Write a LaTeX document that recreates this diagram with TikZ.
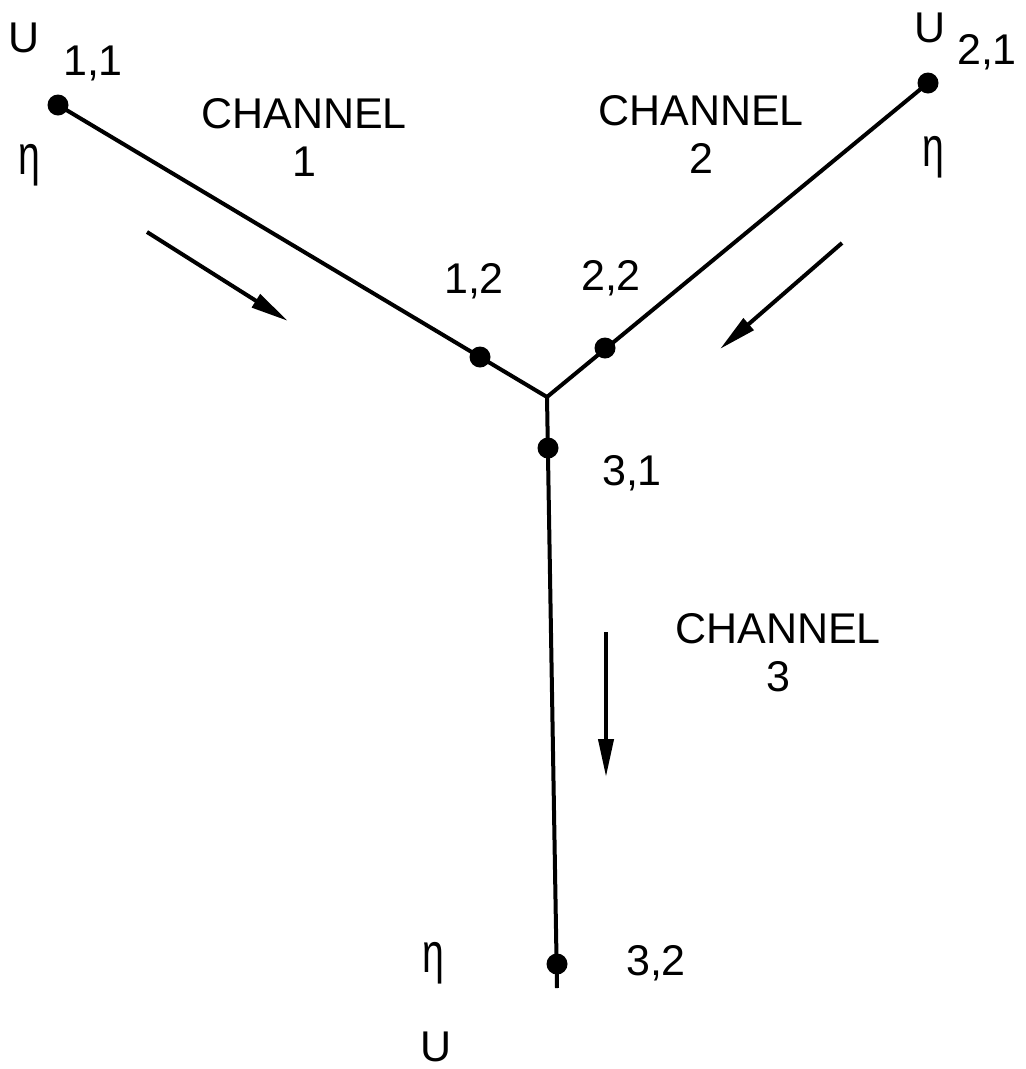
\documentclass[tikz,border=0pt]{standalone}
\usepackage{fontspec}
\usepackage{graphicx}
\setmainfont{Liberation Sans}
\usetikzlibrary{arrows.meta}

\begin{document}
\begin{tikzpicture}[x=1pt,y=-1pt,
    station/.style={circle,fill=black,inner sep=0pt,minimum size=21pt},
    lbl/.style={font=\fontsize{43}{48}\selectfont,inner sep=0pt,align=center},
    idx/.style={lbl,anchor=base},
    eta/.style={font=\fontsize{56}{60}\selectfont,inner sep=0pt,anchor=base},
    chan/.style={line width=4pt},
    flow/.style={-{Triangle[length=38pt,width=15pt]},line width=4pt}
  ]
    \useasboundingbox (0,0) rectangle (1026,1069);

    % channel ends and junction
    \coordinate (jn) at (547,397);
    \coordinate (tail) at (557,988);
    \node[station] (n11) at (58,105) {};
    \node[station] (n21) at (928,83) {};
    \node[station] (n12) at (480,357) {};
    \node[station] (n22) at (605,348) {};
    \node[station] (n31) at (548,448) {};
    \node[station] (n32) at (557,964) {};

    \draw[chan] (n11.center) -- (jn);
    \draw[chan] (n21.center) -- (jn);
    \draw[chan] (jn) -- (tail);

    % labels
    \node[lbl] (u11) at (24,38) {U};
    \node[idx] (i11) at (93,75) {1,1};
    \node[eta] (e11) at (29,174) {\scalebox{0.7}[1]{η}};
    \node[lbl] (ch1) at (304,137) {CHANNEL\\1};
    \node[lbl] (ch2) at (701,134) {CHANNEL\\2};
    \node[lbl] (u21) at (930,28) {U};
    \node[idx] (i21) at (987,64) {2,1};
    \node[eta] (e21) at (933,166) {\scalebox{0.7}[1]{η}};
    \node[idx] (i12) at (474,293) {1,2};
    \node[idx] (i22) at (611,290) {2,2};
    \node[idx] (i31) at (632,485) {3,1};
    \node[lbl] (ch3) at (778,653) {CHANNEL\\3};
    \node[eta] (e32) at (433,972) {\scalebox{0.7}[1]{η}};
    \node[idx] (i32) at (656,975) {3,2};
    \node[lbl] (u32) at (436,1047) {U};

    % flow directions
    \coordinate (f1a) at (147,232);
    \coordinate (f1b) at (288,321);
    \coordinate (f2a) at (842,243);
    \coordinate (f2b) at (720,349);
    \coordinate (f3a) at (606,632);
    \coordinate (f3b) at (606,777);
    \draw[flow] (f1a) -- (f1b);
    \draw[flow] (f2a) -- (f2b);
    \draw[flow] (f3a) -- (f3b);
\end{tikzpicture}
\end{document}
